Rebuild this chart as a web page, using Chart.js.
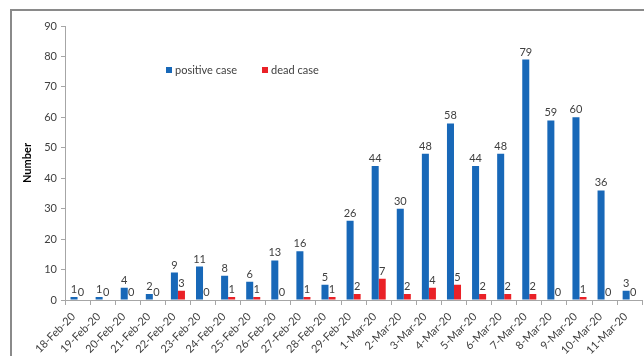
<!DOCTYPE html>
<html>
<head>
<meta charset="utf-8">
<script src="https://cdn.jsdelivr.net/npm/chart.js@4"></script>
<style>
  html, body { margin: 0; padding: 0; background: #fff; overflow: hidden; }
  #wrap { position: relative; width: 644px; height: 356px; }
  #frame { position: absolute; left: 10px; top: 9px; width: 700px; height: 400px;
           border-top: 2px solid #8a8a8a; border-left: 2px solid #8a8a8a; pointer-events: none; }
  canvas { position: absolute; left: 0; top: 0; }
</style>
</head>
<body>
<div id="wrap">
  <canvas id="c" width="644" height="356"></canvas>
  <div id="frame"></div>
</div>
<script>
const categories = ["18-Feb-20","19-Feb-20","20-Feb-20","21-Feb-20","22-Feb-20","23-Feb-20","24-Feb-20","25-Feb-20","26-Feb-20","27-Feb-20","28-Feb-20","29-Feb-20","1-Mar-20","2-Mar-20","3-Mar-20","4-Mar-20","5-Mar-20","6-Mar-20","7-Mar-20","8-Mar-20","9-Mar-20","10-Mar-20","11-Mar-20"];
const positiveCase = [1,1,4,2,9,11,8,6,13,16,5,26,44,30,48,58,44,48,79,59,60,36,3];
const deadCase = [0,0,0,0,3,0,1,1,0,1,1,2,7,2,4,5,2,2,2,0,1,0,0];
const seriesNames = ["positive case","dead case"];
const yTicks = [0,10,20,30,40,50,60,70,80,90];
const yTitle = "Number";

const BLUE = "#1868b8";
const RED = "#ea2127";
const FONT = "Lato";

const valueLabels = {
  id: "valueLabels",
  afterDatasetsDraw(chart) {
    const ctx = chart.ctx;
    ctx.save();
    ctx.font = "11px " + FONT;
    ctx.fillStyle = "#404040";
    ctx.textAlign = "center";
    ctx.textBaseline = "bottom";
    chart.data.datasets.forEach((ds, i) => {
      const meta = chart.getDatasetMeta(i);
      meta.data.forEach((bar, j) => {
        ctx.fillText(String(ds.data[j]), bar.x, bar.y - 2);
      });
    });
    ctx.restore();
  }
};

const boxLegend = {
  id: "boxLegend",
  afterDraw(chart) {
    const ctx = chart.ctx;
    const xs = [166, 262];
    const y = 70;
    ctx.save();
    ctx.font = "11px " + FONT;
    ctx.textBaseline = "middle";
    ctx.textAlign = "left";
    chart.data.datasets.forEach((ds, i) => {
      ctx.fillStyle = ds.backgroundColor;
      ctx.fillRect(xs[i], y - 3, 6, 6);
      ctx.fillStyle = "#404040";
      ctx.fillText(ds.label, xs[i] + 9, y);
    });
    ctx.restore();
  }
};

new Chart(document.getElementById("c"), {
  type: "bar",
  data: {
    labels: categories,
    datasets: [
      { label: seriesNames[0], data: positiveCase, backgroundColor: BLUE },
      { label: seriesNames[1], data: deadCase, backgroundColor: RED }
    ]
  },
  options: {
    responsive: false,
    animation: false,
    devicePixelRatio: 1,
    layout: { padding: { top: 26, right: 0, bottom: 0, left: 0 } },
    datasets: { bar: { categoryPercentage: 0.56, barPercentage: 1.0 } },
    plugins: { legend: { display: false }, tooltip: { enabled: false } },
    scales: {
      x: {
        grid: { display: true, drawOnChartArea: false, drawTicks: true, tickLength: 5, color: "#a6a6a6", offset: true },
        border: { display: true, color: "#a6a6a6" },
        ticks: { autoSkip: false, minRotation: 45, maxRotation: 45, color: "#404040", font: { family: FONT, size: 11 }, padding: 5, labelOffset: -4 },
        afterFit(scale) { scale.height = 56; }
      },
      y: {
        min: 0, max: 90,
        afterBuildTicks(scale) { scale.ticks = yTicks.map(v => ({ value: v })); },
        grid: { display: true, drawOnChartArea: false, drawTicks: true, tickLength: 4, color: "#a6a6a6" },
        border: { display: true, color: "#a6a6a6" },
        ticks: { color: "#404040", font: { family: FONT, size: 11 }, padding: 4 },
        title: { display: true, text: yTitle, color: "#000", font: { family: FONT, size: 11, weight: "bold" }, padding: { top: 21, bottom: 0 } },
        afterFit(scale) { scale.width = 65; }
      }
    }
  },
  plugins: [valueLabels, boxLegend]
});
</script>
</body>
</html>
